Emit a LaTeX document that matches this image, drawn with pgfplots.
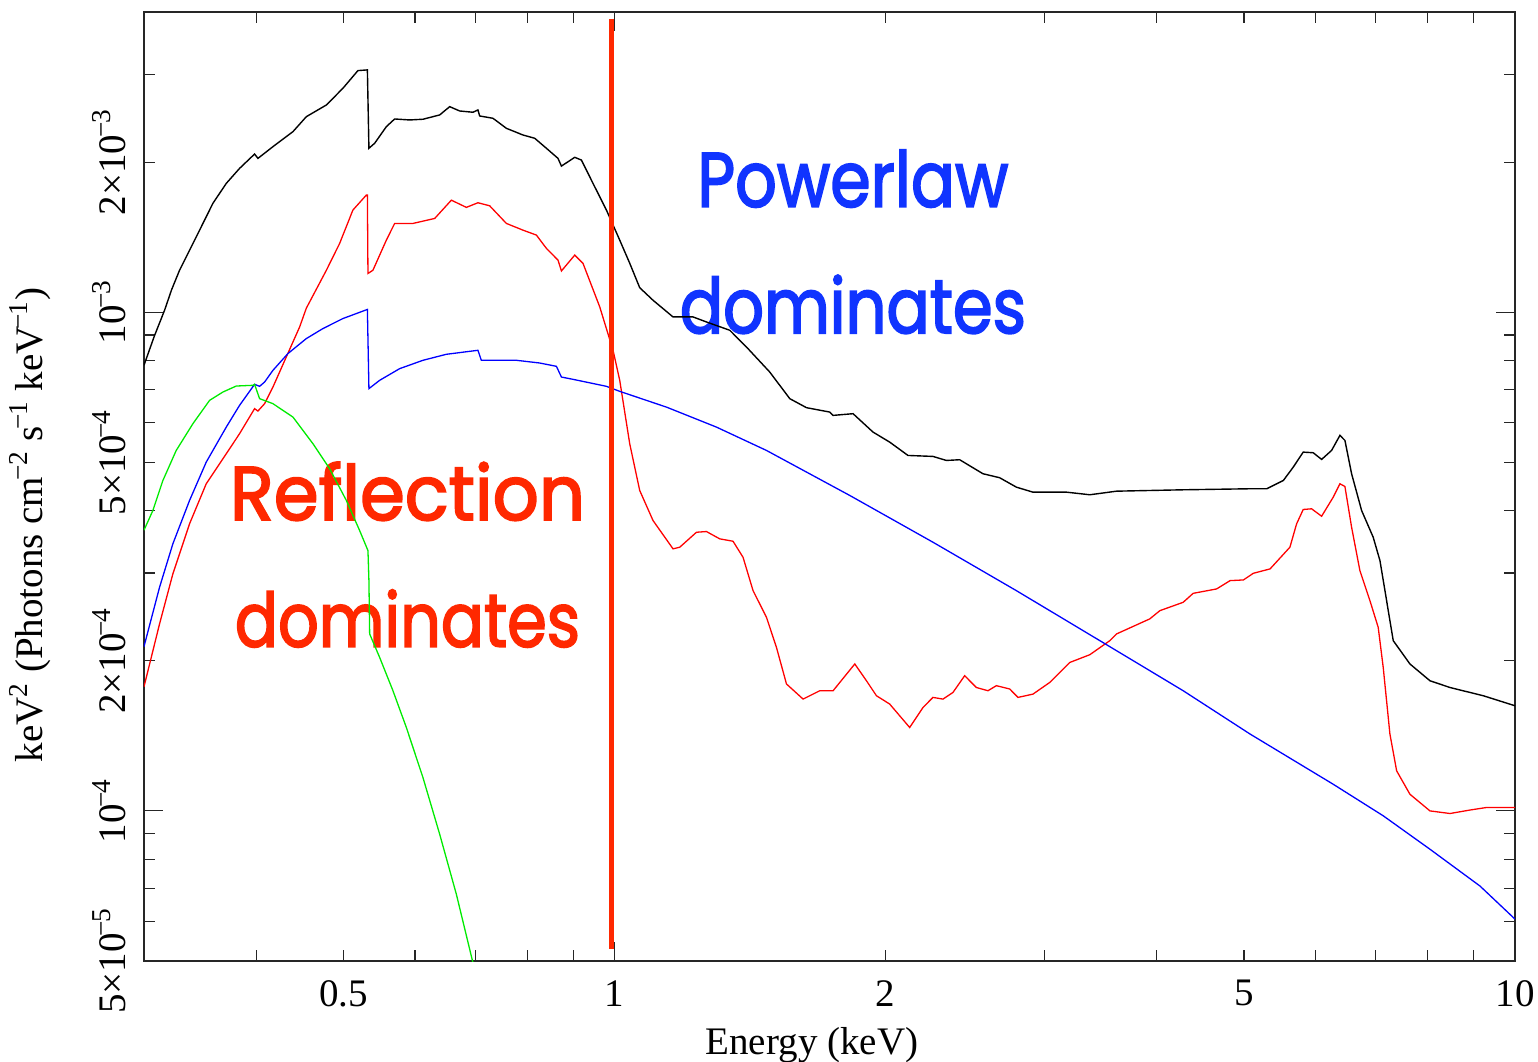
\documentclass[border=0pt]{standalone}
\usepackage{fontspec}
\setmainfont{Liberation Serif}
\newfontfamily\annot[FakeBold=2.5]{Poppins}
\usepackage{graphicx}
\usepackage{pgfplots}
\pgfplotsset{compat=1.18}
\definecolor{annblue}{RGB}{16,52,255}
\definecolor{annred}{RGB}{255,40,0}
\definecolor{plred}{RGB}{255,0,0}
\definecolor{plblue}{RGB}{0,0,255}
\definecolor{plgreen}{RGB}{0,235,0}
\newcommand{\sm}[1]{\textsuperscript{\kern-0.12em−\kern-0.05em#1}}
\begin{document}
\begin{tikzpicture}
\begin{axis}[
  name=ax, at={(0,0)}, anchor=south west,
  scale only axis, width=685.5pt, height=474.5pt,
  xmode=log, ymode=log,
  xmin=0.3, xmax=10, ymin=5e-5, ymax=4e-3,
  axis line style={line width=0.8pt, black!85},
  tick style={line width=0.6pt, black!85},
  tick align=inside,
  major tick length=9.5pt, minor tick length=5.5pt,
  xtick={1,10}, xticklabels={1,10},
  minor xtick={0.4,0.5,0.6,0.7,0.8,0.9,2,3,4,5,6,7,8,9},
  extra x ticks={0.5,2,5}, extra x tick labels={0.5,2,5},
  extra x tick style={major tick length=5.5pt},
  ytick={1e-4,1e-3}, yticklabels={10\sm{4},10\sm{3}},
  minor ytick={5e-5,6e-5,7e-5,8e-5,9e-5,2e-4,3e-4,4e-4,5e-4,6e-4,7e-4,8e-4,9e-4,2e-3,3e-3},
  extra y ticks={5e-5,2e-4,5e-4,2e-3},
  extra y tick labels={5×10\sm{5},2×10\sm{4},5×10\sm{4},2×10\sm{3}},
  extra y tick style={major tick length=5.5pt},
  tick label style={font=\fontsize{19.5}{23}\selectfont},
  xticklabel style={anchor=north, inner xsep=0pt, inner ysep=9.5pt},
  yticklabel style={rotate=90, anchor=south, inner xsep=0pt, inner ysep=9pt},
  label style={font=\fontsize{19.5}{23}\selectfont},
  xlabel={Energy (keV)},
  xlabel style={at={(axis description cs:0.4872,-0.0988)}, anchor=base},
  ylabel={keV\textsuperscript{2} (Photons cm\sm{2} s\sm{1} keV\sm{1})},
  ylabel style={at={(axis description cs:-0.0737,0.4594)}, anchor=base, rotate=0},
]
\node[anchor=base, text=annblue, inner sep=0pt] at (axis description cs:0.5171,0.7948) {\resizebox{155.5pt}{28.5pt}{\annot Powerlaw}};
\node[anchor=base, text=annblue, inner sep=0pt] at (axis description cs:0.5171,0.6617) {\resizebox{173pt}{29pt}{\annot dominates}};
\node[anchor=base, text=annred, inner sep=0pt] at (axis description cs:0.1922,0.4647) {\resizebox{177.5pt}{29pt}{\annot Reflection}};
\node[anchor=base, text=annred, inner sep=0pt] at (axis description cs:0.1922,0.3312) {\resizebox{172.5pt}{28.5pt}{\annot dominates}};
\addplot[black, line width=0.7pt] coordinates {
(0.3,7.83e-4) (0.3080,8.95e-4) (0.3162,1.009e-3) (0.3220,1.110e-3) (0.3286,1.214e-3) (0.3430,1.417e-3) (0.3578,1.653e-3) (0.3703,1.813e-3) (0.3831,1.943e-3) (0.3981,2.076e-3) (0.4015,2.035e-3) (0.4172,2.148e-3) (0.4391,2.302e-3) (0.4544,2.467e-3) (0.4783,2.604e-3) (0.4990,2.813e-3) (0.5185,3.052e-3) (0.5312,3.062e-3) (0.5333,2.132e-3) (0.5412,2.182e-3) (0.5576,2.356e-3) (0.5696,2.441e-3) (0.5919,2.430e-3) (0.6124,2.438e-3) (0.6391,2.487e-3) (0.6557,2.584e-3) (0.6726,2.533e-3) (0.6959,2.518e-3) (0.7049,2.545e-3) (0.7080,2.475e-3) (0.7324,2.449e-3) (0.7580,2.338e-3) (0.7909,2.267e-3) (0.8149,2.233e-3) (0.8397,2.132e-3) (0.8650,2.035e-3) (0.8726,1.964e-3) (0.9028,2.045e-3) (0.9184,2.019e-3) (0.9460,1.813e-3) (0.9790,1.603e-3) (1.0129,1.395e-3) (1.0391,1.254e-3) (1.066,1.120e-3) (1.1029,1.057e-3) (1.1608,9.785e-4) (1.2218,9.785e-4) (1.2644,9.561e-4) (1.3421,9.201e-4) (1.4006,8.518e-4) (1.4867,7.588e-4) (1.5648,6.710e-4) (1.6331,6.436e-4) (1.7334,6.307e-4) (1.7481,6.211e-4) (1.8398,6.260e-4) (1.9364,5.750e-4) (2.0203,5.490e-4) (2.1171,5.162e-4) (2.2568,5.139e-4) (2.3355,5.044e-4) (2.4163,5.061e-4) (2.5647,4.744e-4) (2.6767,4.657e-4) (2.7935,4.459e-4) (2.9147,4.357e-4) (3.1757,4.357e-4) (3.3709,4.305e-4) (3.6095,4.377e-4) (4.2798,4.405e-4) (5.0786,4.426e-4) (5.3002,4.426e-4) (5.5298,4.599e-4) (5.6711,4.890e-4) (5.8180,5.242e-4) (5.9688,5.227e-4) (6.0983,5.068e-4) (6.2562,5.283e-4) (6.3906,5.663e-4) (6.4728,5.533e-4) (6.5847,4.744e-4) (6.7553,4.003e-4) (6.9588,3.538e-4) (7.0795,3.177e-4) (7.2018,2.640e-4) (7.3245,2.195e-4) (7.6445,1.971e-4) (8.0453,1.824e-4) (8.4678,1.768e-4) (9.2211,1.702e-4) (10,1.625e-4)
};
\addplot[plred, line width=0.65pt] coordinates {
(0.3,1.774e-4) (0.3122,2.371e-4) (0.3230,2.987e-4) (0.3371,3.765e-4) (0.3518,4.529e-4) (0.3703,5.203e-4) (0.3831,5.707e-4) (0.3981,6.407e-4) (0.4015,6.336e-4) (0.4084,6.557e-4) (0.4172,7.079e-4) (0.4317,8.133e-4) (0.4467,9.343e-4) (0.4544,1.019e-3) (0.4783,1.214e-3) (0.4948,1.374e-3) (0.5119,1.603e-3) (0.5298,1.718e-3) (0.5312,1.718e-3) (0.5320,1.196e-3) (0.5388,1.214e-3) (0.5576,1.395e-3) (0.5696,1.507e-3) (0.5969,1.507e-3) (0.6310,1.542e-3) (0.6585,1.678e-3) (0.6843,1.623e-3) (0.7049,1.658e-3) (0.7263,1.635e-3) (0.7580,1.507e-3) (0.7909,1.461e-3) (0.8185,1.428e-3) (0.8397,1.343e-3) (0.8650,1.272e-3) (0.8726,1.210e-3) (0.9028,1.302e-3) (0.9221,1.253e-3) (0.9624,1.025e-3) (0.9957,8.389e-4) (1.0129,7.302e-4) (1.0391,5.449e-4) (1.066,4.391e-4) (1.1029,3.823e-4) (1.1608,3.354e-4) (1.1809,3.379e-4) (1.2325,3.621e-4) (1.2644,3.633e-4) (1.3082,3.512e-4) (1.3534,3.474e-4) (1.3885,3.226e-4) (1.4245,2.765e-4) (1.4742,2.445e-4) (1.5124,2.128e-4) (1.5517,1.797e-4) (1.6190,1.676e-4) (1.6896,1.742e-4) (1.7481,1.742e-4) (1.8479,1.971e-4) (1.9039,1.824e-4) (1.9534,1.702e-4) (2.0203,1.638e-4) (2.1263,1.470e-4) (2.1998,1.612e-4) (2.2568,1.689e-4) (2.3152,1.676e-4) (2.3752,1.728e-4) (2.4474,1.867e-4) (2.5217,1.768e-4) (2.5977,1.742e-4) (2.6542,1.783e-4) (2.7460,1.756e-4) (2.8050,1.689e-4) (2.9147,1.715e-4) (3.0426,1.810e-4) (3.2026,1.985e-4) (3.3709,2.057e-4) (3.5481,2.195e-4) (3.6095,2.264e-4) (3.9301,2.427e-4) (4.0321,2.521e-4) (4.2798,2.620e-4) (4.3907,2.731e-4) (4.6617,2.787e-4) (4.8254,2.896e-4) (4.9924,2.905e-4) (5.1216,2.996e-4) (5.3451,3.057e-4) (5.6234,3.379e-4) (5.7205,3.765e-4) (5.8180,4.022e-4) (5.9443,4.035e-4) (6.0983,3.899e-4) (6.2819,4.257e-4) (6.3906,4.529e-4) (6.4728,4.473e-4) (6.5847,3.706e-4) (6.7260,3.033e-4) (6.9003,2.640e-4) (7.0483,2.334e-4) (7.1395,1.940e-4) (7.2629,1.426e-4) (7.3885,1.203e-4) (7.6445,1.080e-4) (8.0453,1.000e-4) (8.4678,9.88e-5) (8.9125,1.004e-4) (9.3018,1.016e-4) (10,1.016e-4)
};
\addplot[plblue, line width=0.65pt] coordinates {
(0.3,2.135e-4) (0.3022,2.246e-4) (0.3122,2.808e-4) (0.3230,3.432e-4) (0.3371,4.193e-4) (0.3518,5.005e-4) (0.3703,5.884e-4) (0.3831,6.505e-4) (0.3981,7.169e-4) (0.4032,7.103e-4) (0.4084,7.245e-4) (0.4172,7.648e-4) (0.4335,8.262e-4) (0.4544,8.855e-4) (0.4741,9.274e-4) (0.4990,9.713e-4) (0.5312,1.013e-3) (0.5333,7.028e-4) (0.5481,7.302e-4) (0.5769,7.708e-4) (0.6124,8.010e-4) (0.6501,8.235e-4) (0.7049,8.389e-4) (0.7110,8.010e-4) (0.7776,8.010e-4) (0.8254,7.911e-4) (0.8615,7.790e-4) (0.8726,7.414e-4) (0.8988,7.336e-4) (0.9790,7.103e-4) (1.0129,6.940e-4) (1.1413,6.454e-4) (1.2972,5.884e-4) (1.4742,5.283e-4) (1.8244,4.291e-4) (2.2568,3.458e-4) (2.7935,2.765e-4) (3.4582,2.195e-4) (4.2798,1.742e-4) (5.0786,1.426e-4) (6.2819,1.131e-4) (7.1395,9.776e-5) (8.0453,8.378e-5) (9.1435,7.069e-5) (10,6.068e-5)
};
\addplot[plgreen, line width=0.65pt] coordinates {
(0.3,3.655e-4) (0.3022,3.765e-4) (0.3069,4.003e-4) (0.3149,4.599e-4) (0.3258,5.283e-4) (0.3400,5.977e-4) (0.3548,6.657e-4) (0.3671,6.918e-4) (0.3799,7.113e-4) (0.3964,7.136e-4) (0.3981,7.169e-4) (0.4032,6.710e-4) (0.4172,6.557e-4) (0.4391,6.163e-4) (0.4622,5.449e-4) (0.4823,4.855e-4) (0.5034,4.193e-4) (0.5208,3.650e-4) (0.5320,3.327e-4) (0.5333,2.896e-4) (0.5343,2.264e-4) (0.5481,2.032e-4) (0.5671,1.742e-4) (0.5869,1.470e-4) (0.6124,1.166e-4) (0.6391,8.979e-5) (0.6670,6.802e-5) (0.6959,4.960e-5)
};
\addplot[annred, line width=2.4pt] coordinates {(0.992,3.88e-3) (0.992,5.28e-5)};
\end{axis}
\pgfresetboundingbox
\path ([shift={(-72pt,-50.5pt)}]ax.south west) rectangle ([shift={(11.5pt,6pt)}]ax.north east);
\end{tikzpicture}
\end{document}
